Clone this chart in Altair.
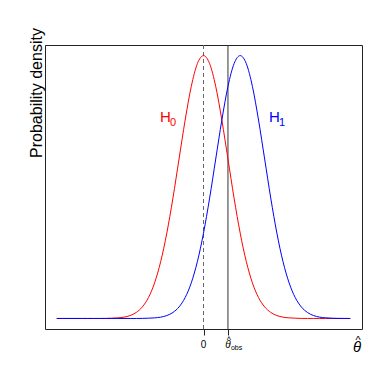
import altair as alt
import pandas as pd

# x grid (theta) and densities
theta = [-6.0, -5.75, -5.5, -5.25, -5.0, -4.75, -4.5, -4.25, -4.0, -3.75, -3.5, -3.25,
         -3.0, -2.75, -2.5, -2.25, -2.0, -1.75, -1.5, -1.25, -1.0, -0.75, -0.5, -0.25,
         0.0, 0.25, 0.5, 0.75, 1.0, 1.25, 1.5, 1.75, 2.0, 2.25, 2.5, 2.75,
         3.0, 3.25, 3.5, 3.75, 4.0, 4.25, 4.5, 4.75, 5.0, 5.25, 5.5, 5.75, 6.0]

h0_density = [0, 0, 0, 0, 0, 0, 0, 0,
              0.0001, 0.0004, 0.0009, 0.0020, 0.0044, 0.0091, 0.0175, 0.0317, 0.0540,
              0.0863, 0.1295, 0.1826, 0.2420, 0.3011, 0.3521, 0.3867, 0.3989,
              0.3867, 0.3521, 0.3011, 0.2420, 0.1826, 0.1295, 0.0863, 0.0540,
              0.0317, 0.0175, 0.0091, 0.0044, 0.0020, 0.0009, 0.0004, 0.0001,
              0, 0, 0, 0, 0, 0, 0, 0]

h1_density = [0, 0, 0, 0, 0, 0, 0, 0, 0, 0, 0, 0, 0, 0,
              0.0001, 0.0004, 0.0009, 0.0020, 0.0044, 0.0091, 0.0175, 0.0317, 0.0540,
              0.0863, 0.1295, 0.1826, 0.2420, 0.3011, 0.3521, 0.3867, 0.3989,
              0.3867, 0.3521, 0.3011, 0.2420, 0.1826, 0.1295, 0.0863, 0.0540,
              0.0317, 0.0175, 0.0091, 0.0044, 0.0020, 0.0009, 0.0004, 0.0001,
              0, 0]

null_value = 0.0
theta_obs = 1.0

hyp_names = ["H0", "H1"]
hyp_colors = ["#ff0000", "#0000ff"]

FONT = "Liberation Sans"

curves = pd.DataFrame(
    {"theta": theta * 2,
     "density": h0_density + h1_density,
     "hyp": ["H0"] * len(theta) + ["H1"] * len(theta)}
)

xscale = alt.Scale(domain=[-6.48, 6.48], nice=False, zero=False)
yscale = alt.Scale(domain=[-0.016, 0.415], nice=False, zero=False)
cscale = alt.Scale(domain=hyp_names, range=hyp_colors)

lines = alt.Chart(curves).mark_line(strokeWidth=1, interpolate="monotone").encode(
    x=alt.X("theta:Q", scale=xscale,
            axis=alt.Axis(values=[null_value, theta_obs], labels=False, tickSize=6,
                          tickColor="#222", domain=False, grid=False, title=None)),
    y=alt.Y("density:Q", scale=yscale, axis=None),
    color=alt.Color("hyp:N", scale=cscale, legend=None),
)

null_rule = alt.Chart(pd.DataFrame({"theta": [null_value]})).mark_rule(
    color="#666666", strokeDash=[4, 3], strokeWidth=1
).encode(x=alt.X("theta:Q", scale=xscale))

obs_rule = alt.Chart(pd.DataFrame({"theta": [theta_obs]})).mark_rule(
    color="#333333", strokeWidth=1
).encode(x=alt.X("theta:Q", scale=xscale))

# hypothesis labels
hlab = pd.DataFrame({"theta": [-1.78, 2.68], "density": [0.298, 0.298],
                     "hyp": hyp_names, "main": ["H", "H"], "sub": ["0", "1"]})
h_main = alt.Chart(hlab).mark_text(font=FONT, fontSize=15, align="left",
                                   baseline="alphabetic").encode(
    x=alt.X("theta:Q", scale=xscale), y=alt.Y("density:Q", scale=yscale),
    text="main:N",
    color=alt.Color("hyp:N", scale=cscale, legend=None))
h_sub = alt.Chart(hlab).mark_text(font=FONT, fontSize=11, align="left", dx=10, dy=4,
                                  baseline="alphabetic").encode(
    x=alt.X("theta:Q", scale=xscale), y=alt.Y("density:Q", scale=yscale),
    text="sub:N",
    color=alt.Color("hyp:N", scale=cscale, legend=None))

# tick labels
zero_lab = alt.Chart(pd.DataFrame({"theta": [null_value], "t": ["0"]})).mark_text(
    font=FONT, fontSize=10, baseline="middle", color="black"
).encode(x=alt.X("theta:Q", scale=xscale), y=alt.value(300), text="t:N")

obs_theta = alt.Chart(pd.DataFrame({"theta": [theta_obs], "t": ["θ"]})).mark_text(
    font=FONT, fontSize=10, fontStyle="italic", baseline="alphabetic", color="black"
).encode(x=alt.X("theta:Q", scale=xscale), y=alt.value(303), text="t:N")
obs_hat = alt.Chart(pd.DataFrame({"theta": [theta_obs], "t": ["^"]})).mark_text(
    font=FONT, fontSize=9, baseline="alphabetic", dx=1, color="black"
).encode(x=alt.X("theta:Q", scale=xscale), y=alt.value(298), text="t:N")
obs_sub = alt.Chart(pd.DataFrame({"theta": [theta_obs], "t": ["obs"]})).mark_text(
    font=FONT, fontSize=7, baseline="alphabetic", align="left", dx=3, color="black"
).encode(x=alt.X("theta:Q", scale=xscale), y=alt.value(305), text="t:N")

# axis title
xt = alt.Chart(pd.DataFrame({"theta": [6.28], "t": ["θ"]})).mark_text(
    font=FONT, fontSize=15, fontStyle="italic", baseline="alphabetic", color="black"
).encode(x=alt.X("theta:Q", scale=xscale), y=alt.value(307), text="t:N")
xt_hat = alt.Chart(pd.DataFrame({"theta": [6.28], "t": ["^"]})).mark_text(
    font=FONT, fontSize=11, baseline="alphabetic", dx=1, color="black"
).encode(x=alt.X("theta:Q", scale=xscale), y=alt.value(299), text="t:N")

yt = alt.Chart(pd.DataFrame({"t": ["Probability density"]})).mark_text(
    font=FONT, fontSize=16, angle=270, baseline="middle", align="center", color="black"
).encode(x=alt.value(-8), y=alt.value(48), text="t:N")

chart = alt.layer(
    null_rule, obs_rule, lines, h_main, h_sub, zero_lab, obs_theta, obs_hat, obs_sub,
    xt, xt_hat, yt
).properties(
    width=317, height=284,
    autosize=alt.AutoSizeParams(type="none"),
    padding={"left": 37, "top": 37, "right": 15, "bottom": 48},
).configure_view(stroke="#222222", strokeWidth=1)

chart.save("out.html", embed_options={"renderer": "svg", "actions": False})
